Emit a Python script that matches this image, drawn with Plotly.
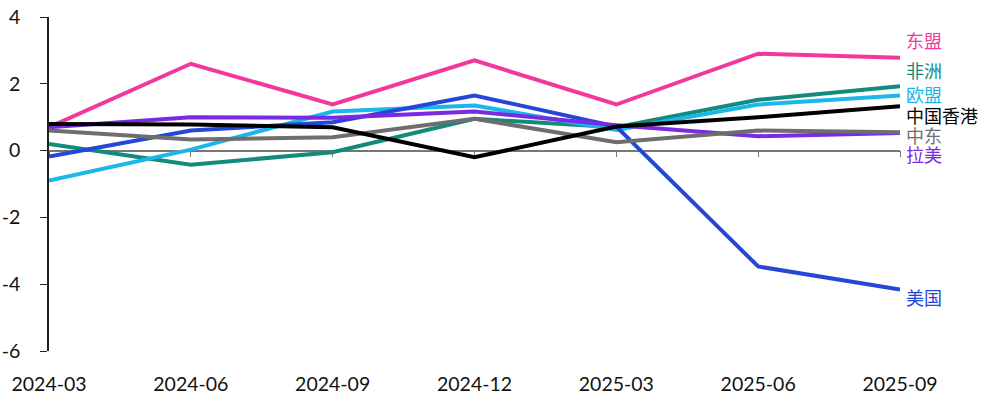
import plotly.graph_objects as go

quarters = ["2024-03", "2024-06", "2024-09", "2024-12", "2025-03", "2025-06", "2025-09"]
y_ticks = [-6, -4, -2, 0, 2, 4]
y_tick_text = ["-6", "-4", "-2", "0", "2", "4"]

asean = [0.7, 2.6, 1.38, 2.7, 1.38, 2.9, 2.78]
africa = [0.2, -0.42, -0.05, 0.95, 0.7, 1.52, 1.93]
eu = [-0.9, 0.03, 1.17, 1.35, 0.62, 1.38, 1.65]
usa = [-0.18, 0.6, 0.85, 1.65, 0.72, -3.47, -4.16]
latam = [0.7, 1.0, 0.98, 1.17, 0.76, 0.43, 0.53]
mideast = [0.6, 0.33, 0.4, 0.95, 0.25, 0.6, 0.55]
hongkong = [0.8, 0.78, 0.7, -0.2, 0.72, 1.0, 1.33]

series = [
    ("东盟", asean, "#f2399b", -18),
    ("非洲", africa, "#128a7c", -16),
    ("欧盟", eu, "#1ab7eb", -1),
    ("美国", usa, "#2447d8", 7),
    ("拉美", latam, "#7a2ae0", 21),
    ("中东", mideast, "#6e6e6e", 3),
    ("中国香港", hongkong, "#000000", 9),
]

fig = go.Figure()
xidx = list(range(len(quarters)))
for name, vals, color, dy in series:
    fig.add_trace(go.Scatter(x=xidx, y=vals, mode="lines", name=name,
                             line=dict(color=color, width=4), showlegend=False))
    fig.add_annotation(x=xidx[-1], y=vals[-1], text=name, showarrow=False,
                       xanchor="left", yanchor="middle", xshift=4, yshift=-dy,
                       font=dict(size=18, color=color, family="Noto Sans CJK SC"))

fig.update_layout(
    width=994, height=408,
    margin=dict(l=49, r=94, t=17, b=57),
    paper_bgcolor="white", plot_bgcolor="white",
    font=dict(family="Lato, Noto Sans CJK SC", size=19.5, color="#111"),
    xaxis=dict(range=[0, 6], tickmode="array", tickvals=xidx, ticktext=quarters,
               showgrid=False, zeroline=False, showline=False, automargin=False,
               ticks="outside", ticklen=16, tickcolor="rgba(0,0,0,0)"),
    xaxis2=dict(range=[0, 6], overlaying="x", anchor="free", position=0.6,
                tickmode="array", tickvals=xidx, showticklabels=False, automargin=False,
                showgrid=False, zeroline=False, showline=True, linecolor="#777",
                linewidth=1.5, ticks="outside", ticklen=6, tickcolor="#777",
                layer="below traces"),
    yaxis=dict(range=[-6, 4], tickmode="array", tickvals=y_ticks, ticktext=y_tick_text,
               showgrid=False, zeroline=False,
               showline=True, linecolor="#222", linewidth=1.5, automargin=False,
               ticks="outside", ticklen=7, tickcolor="#222",
               ticklabelstandoff=16),
)
fig.add_trace(go.Scatter(x=[0, 6], y=[None, None], xaxis="x2", showlegend=False,
                         hoverinfo="skip"))

fig.write_html("out.html", config={"displayModeBar": False},
               post_script="document.body.style.margin='0';")
